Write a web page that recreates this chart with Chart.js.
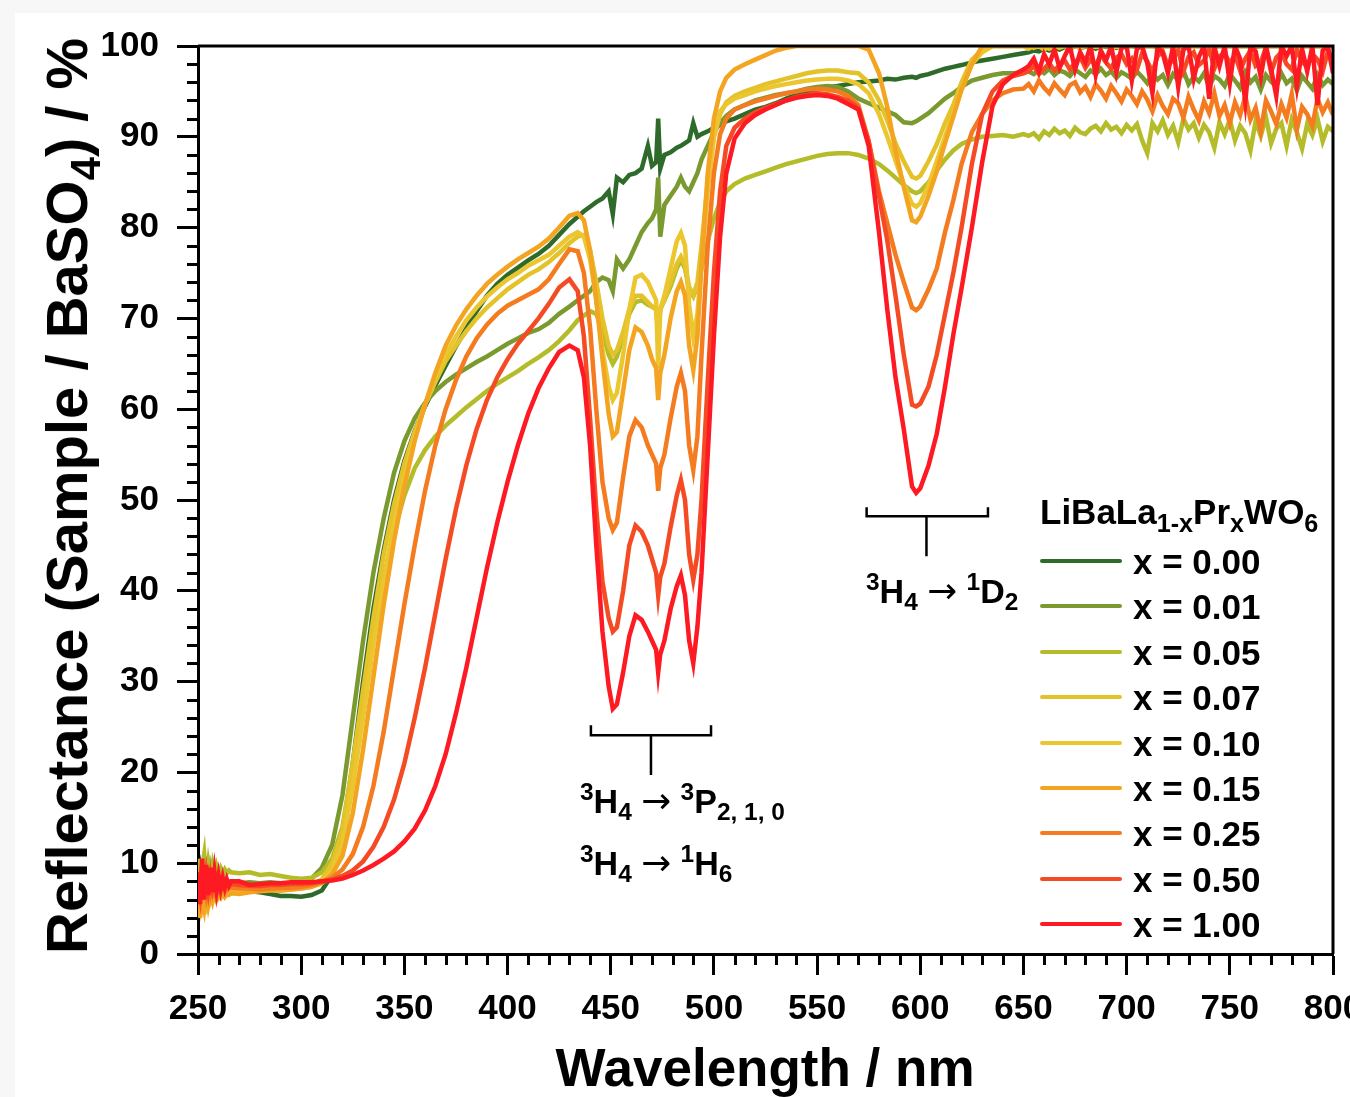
<!DOCTYPE html>
<html>
<head>
<meta charset="utf-8">
<script src="https://cdn.jsdelivr.net/npm/chart.js@4.4.0/dist/chart.umd.min.js"></script>
<style>
html, body { margin: 0; padding: 0; width: 1350px; height: 1097px; overflow: hidden; background: #f7f7f7; font-family: "Liberation Sans", Arial, sans-serif; }
#paper { position: absolute; left: 15px; top: 13px; width: 1335px; height: 1084px; background: #fff; }
#c { position: absolute; left: 0; top: 0; }
.txt { position: absolute; font-weight: bold; color: #000; white-space: nowrap; line-height: 1; }
.txt sub { font-size: 0.72em; vertical-align: -0.3em; line-height: 0; }
.txt sup { font-size: 0.72em; vertical-align: 0.55em; line-height: 0; }
.ar { font-family: "DejaVu Sans", sans-serif; font-weight: normal; font-size: 1.05em; }
.swatch { position: absolute; height: 4px; width: 82px; border-radius: 2px; }
</style>
</head>
<body>
<div id="paper"></div>
<canvas id="c" width="1350" height="1097"></canvas>

<div class="txt" id="ytitle" style="font-size:58px;">Reflectance (Sample / BaSO<sub>4</sub>) / %</div>
<div class="txt" style="font-size:53px; left:765px; top:1041px; transform:translateX(-50%);">Wavelength / nm</div>

<div class="txt" style="font-size:34px; left:580px; top:783px;"><sup>3</sup>H<sub>4</sub> <span class="ar">→</span> <sup>3</sup>P<sub>2, 1, 0</sub></div>
<div class="txt" style="font-size:34px; left:580px; top:845px;"><sup>3</sup>H<sub>4</sub> <span class="ar">→</span> <sup>1</sup>H<sub>6</sub></div>
<div class="txt" style="font-size:34px; left:866px; top:573px;"><sup>3</sup>H<sub>4</sub> <span class="ar">→</span> <sup>1</sup>D<sub>2</sub></div>

<div class="txt" style="font-size:35px; left:1040px; top:494px;">LiBaLa<sub>1-x</sub>Pr<sub>x</sub>WO<sub>6</sub></div>
<div id="legend"></div>

<script>
// wavelength grid (nm)
const wl = [
  250, 251, 252, 253, 254, 255, 256, 257, 258, 259, 260, 261, 262, 263, 264, 265, 266, 270, 275, 280, 285, 290, 295, 300,
  305, 310, 315, 320, 325, 330, 335, 340, 345, 350, 355, 360, 365, 370, 375, 380, 385, 390, 395, 400, 405, 410, 415, 420, 425, 430, 434,
  437, 440, 443, 446, 449, 451, 453, 456, 459, 462, 465, 468, 470, 472, 473, 474, 476, 479, 482, 484, 486, 488, 490, 492, 494, 497, 500,
  503, 506, 510, 515, 520, 525, 530, 535, 540, 545, 550, 555, 560, 565, 570, 575, 580,
  584, 588, 592, 596, 598, 600, 604, 608, 612, 616, 620,
  625, 630, 635, 640, 645, 650,
  652.5, 655, 657.5, 660, 662.5, 665, 667.5, 670, 672.5, 675, 677.5, 680, 682.5, 685, 687.5, 690, 692.5, 695, 697.5, 700,
  702.5, 705, 707.5, 710, 712.5, 715, 717.5, 720, 722.5, 725, 727.5, 730, 732.5, 735, 737.5, 740, 742.5, 745, 747.5, 750,
  752.5, 755, 757.5, 760, 762.5, 765, 767.5, 770, 772.5, 775, 777.5, 780, 782.5, 785, 787.5, 790, 792.5, 795, 797.5, 800
];

const labels = ['x = 0.00', 'x = 0.01', 'x = 0.05', 'x = 0.07', 'x = 0.10', 'x = 0.15', 'x = 0.25', 'x = 0.50', 'x = 1.00'];
const colors = ['#2e6b2b', '#7a9a30', '#b4bc2a', '#e3c22a', '#ebc62f', '#f3a421', '#f47b20', '#f54b24', '#fe1a22'];

// reflectance in %
const r000 = [
  7.5, 9, 6.5, 8.5, 7, 9.5, 6.8, 8, 7.2, 8.3, 6.9, 7.6, 7.1, 7.8, 6.9, 7.4, 7.1, 7, 6.9, 6.8, 6.6, 6.4, 6.4, 6.3,
  6.5, 7, 8.7, 12.5, 21, 30, 38, 44.5, 50, 54.3, 57.6, 60.3, 62.6, 64.8, 66.9, 68.9, 70.8, 72.5, 73.8, 74.8, 75.6, 76.4, 77.1, 78, 79.2, 80.4, 81.2,
  81.8, 82.3, 82.8, 83.2, 84, 81.5, 85.5, 85, 85.8, 86, 86.5, 89, 86.8, 87.2, 92, 86.5, 88, 88.3, 88.8, 89, 89.3, 89.6, 91.5, 90, 90.3, 90.6, 91,
  91.3, 91.7, 92, 92.5, 93, 93.3, 93.7, 94.2, 94.6, 94.8, 95.2, 95.4, 95.6, 95.8, 96, 96.1, 96.2,
  96.4, 96.3, 96.5, 96.6, 96.5, 96.7, 96.9, 97.2, 97.5, 97.7, 97.9,
  98.2, 98.4, 98.6, 98.8, 99, 99.2,
  99.3, 99.5, 99.4, 99.7, 99.5, 99.8, 99.6, 99.9, 99.7, 100, 99.8, 99.9, 100, 99.7, 100, 99.9, 100, 99.8, 100, 100,
  100, 99.9, 100, 100, 100, 99.8, 100, 100, 100, 100, 99.9, 100, 100, 100, 100, 100, 99.9, 100, 100, 100,
  100, 100, 100, 100, 99.9, 100, 100, 100, 100, 100, 100, 100, 100, 100, 100, 100, 100, 100, 100, 100
];
const r001 = [
  8, 6, 9.5, 7, 8.5, 6.8, 9, 7.4, 8.6, 7.2, 8.3, 7.6, 8.2, 7.5, 8, 7.6, 7.9, 7.8, 7.9, 7.8, 7.9, 7.8, 7.7, 7.8,
  8.3, 9.5, 12, 17.5, 26, 34.5, 42, 48, 53, 56.5, 59, 60.7, 62, 63, 63.8, 64.5, 65.2, 65.8, 66.5, 67.2, 67.8, 68.4, 68.8, 69.5, 70.5, 71.3, 72,
  72.5, 73, 74, 74.5, 74.2, 73, 76.5, 75.5, 76.5, 78, 79.5, 80.5, 81, 82, 85.5, 79, 82.5, 83.5, 84.5, 85.5, 84.5, 84, 85, 86, 87.5, 89, 90.5,
  91.5, 92.3, 93, 93.5, 94, 94.3, 94.6, 94.8, 95, 95.3, 95.5, 95.6, 95.5, 95, 94.2, 93.7, 93.2,
  92.8, 92.4, 91.6, 91.5, 91.7, 92, 92.6, 93.4, 94.2, 94.8, 95.5,
  96.2, 96.5, 96.8, 97, 97, 97.1,
  97.2, 96.9, 97.4, 97, 97.5, 96.8, 97.3, 97.1, 96.7, 97.4, 97, 96.6, 97.3, 96.9, 97.5, 96.8, 97.2, 96.5, 97.1, 96.8,
  96.4, 97.2, 96.6, 95.9, 97, 96.3, 96.8, 95.7, 96.9, 96.2, 97.3, 95.8, 96.6, 96.1, 97, 95.5, 96.7, 96.3, 95.6, 96.9,
  96.2, 95.4, 97.1, 96, 96.6, 95.2, 96.8, 96.1, 95.5, 97, 95.9, 96.4, 95.1, 96.7, 96, 95.3, 96.8, 95.7, 96.3, 95.8
];
const r005 = [
  10.5, 7, 9.5, 11, 8, 10, 8.5, 9.8, 8.4, 9.6, 8.7, 9.4, 8.8, 9.3, 8.9, 9.2, 9, 8.9, 9, 8.7, 8.8, 8.6, 8.4, 8.3,
  8.4, 9, 10.5, 14, 21, 28.5, 35.5, 41.5, 46.5, 50.5, 53.5, 55.5, 57, 58.2, 59.2, 60.2, 61.1, 62, 62.8, 63.5, 64.2, 65, 65.7, 66.5, 67.5, 68.7, 69.8,
  70.3, 70.8, 70.5, 68.5, 66, 65, 65.8, 68, 70.5, 71.8, 72, 71.5, 71.3, 71, 69, 71, 72, 73.5, 75.5, 76.4, 75.5, 73, 72.4, 73.5, 75.5, 78.5, 81,
  82.8, 84, 84.8, 85.4, 85.8, 86.2, 86.6, 87, 87.3, 87.6, 87.9, 88.1, 88.2, 88.2, 88, 87.6, 87,
  86.3, 85.5, 84.7, 84, 83.8, 84, 85, 86.3, 87.5, 88.5, 89.2,
  89.7, 90, 90.1, 90.2, 90, 90.3,
  90.1, 90.4, 89.8, 90.6, 90.2, 90.9, 90.4, 90.7, 90.1, 91, 90.5, 90.3, 90.9, 91.2, 90.6, 91.5, 90.8, 91.1, 90.4, 91.3,
  90.7, 91.4, 89.6, 88.2, 91.5, 90.6, 91.8, 90.2, 91.2, 89.4, 92, 90.8, 91.5, 89.9, 91.3, 90.5, 88.8, 91.6, 90.3, 91.9,
  89.6, 91.2, 90.4, 88.5, 91.7, 90.1, 92.2, 89.3, 90.9, 91.5, 89, 91.9, 90.5, 88.7, 91.4, 90.2, 92, 89.5, 91.1, 90.6
];
const r007 = [
  5.5, 7.5, 6, 7.2, 5.8, 7, 6.2, 6.9, 6.4, 7.1, 6.5, 6.9, 6.7, 7, 6.8, 7.1, 6.9, 6.9, 7.1, 7.2, 7.1, 7.2, 7.3, 7.4,
  7.6, 8.2, 10, 13.5, 21, 29, 37, 44, 49.5, 54, 57.5, 60.5, 63, 65.3, 67, 68.6, 70, 71.2, 72.2, 73.2, 74, 74.8, 75.4, 76.2, 77.2, 78.3, 79,
  79.2, 77.5, 74, 70, 67, 66, 66.5, 68.5, 71, 72.5, 72.5, 71.8, 71.3, 71, 68, 71, 72, 74, 76, 76.8, 75.8, 73.5, 72.5, 74, 78, 85, 90,
  92.5, 93.8, 94.5, 95, 95.4, 95.8, 96.1, 96.4, 96.7, 97, 97.2, 97.3, 97.3, 97.1, 97, 96, 94,
  91.8, 89.3, 87.3, 85.6, 85.4, 85.7, 87.3, 89.2, 91.5, 93.5, 96,
  98.5, 99.5, 100, 100, 100, 100,
  100, 99.8, 100, 100, 99.7, 100, 100, 100, 99.8, 100, 100, 100, 100, 99.9, 100, 100, 100, 100, 99.8, 100,
  100, 100, 100, 100, 100, 99.9, 100, 100, 100, 100, 100, 100, 100, 100, 100, 100, 100, 100, 100, 100,
  100, 100, 100, 100, 100, 100, 100, 100, 100, 100, 100, 100, 100, 100, 100, 100, 100, 100, 100, 100
];
const r010 = [
  6, 5, 7, 6.5, 5.5, 6.8, 5.9, 6.6, 6.2, 6.9, 6.3, 6.7, 6.5, 6.9, 6.6, 6.8, 6.7, 6.8, 7, 7, 7.1, 7, 7.1, 7.2,
  7.4, 7.9, 9.3, 12, 18.5, 26, 34, 41, 47.5, 52.5, 57, 60.5, 63.5, 66, 68, 69.8, 71.2, 72.4, 73.4, 74.3, 75, 75.8, 76.4, 77, 78, 79, 79.5,
  79, 76.5, 72, 66.5, 62.5, 61, 61.8, 66, 71, 74.5, 74.8, 74, 73, 72, 64.5, 71, 72.5, 75.5, 78.5, 79.4, 78, 71.5, 68, 70.5, 76, 84, 90,
  92.8, 93.6, 94.2, 94.6, 95, 95.3, 95.6, 95.8, 96, 96.2, 96.3, 96.4, 96.4, 96.2, 95.8, 94.8, 92.5,
  90, 87.4, 84.8, 82.6, 82.3, 82.7, 84.7, 87.3, 90, 92.6, 95.2,
  98, 99.3, 100, 100, 100, 100,
  99.7, 100, 100, 99.6, 100, 100, 99.8, 100, 100, 100, 99.8, 100, 100, 100, 100, 100, 100, 99.9, 100, 100,
  100, 100, 99.9, 100, 100, 100, 100, 100, 100, 100, 100, 100, 100, 100, 100, 100, 100, 100, 100, 100,
  100, 100, 100, 100, 100, 100, 100, 100, 100, 100, 100, 100, 100, 100, 100, 100, 100, 100, 100, 100
];
const r015 = [
  6.5, 4, 6.2, 5, 7, 5.4, 6.6, 5.8, 6.8, 6, 6.5, 6.2, 6.7, 6.3, 6.6, 6.5, 6.7, 6.6, 6.8, 6.9, 7, 7, 7.1, 7.2,
  7.4, 7.8, 8.8, 10.8, 15.5, 22.5, 30.5, 38.5, 45.5, 51.5, 56.5, 60.5, 64, 67, 69.2, 71, 72.5, 73.8, 74.8, 75.7, 76.5, 77.2, 77.9, 78.8, 80, 81.3, 81.6,
  80.8, 77.5, 72, 65.5, 59.5, 57, 57.5, 62, 66.5, 69, 68.5, 67, 65.5, 64.5, 61, 64, 66, 70, 73, 74, 72.5, 67, 64.3, 68, 76, 86, 92,
  95, 96.5, 97.4, 98, 98.5, 99, 99.5, 99.8, 100, 100, 100, 100, 100, 100, 100, 99.6, 97,
  93.3, 88.5, 84.5, 80.8, 80.6, 81.2, 83.5, 86.2, 89.3, 92.2, 95.2,
  98, 100, 100, 100, 100, 100,
  100, 100, 100, 100, 100, 100, 100, 100, 100, 100, 100, 100, 100, 100, 100, 100, 100, 100, 100, 100,
  100, 100, 100, 100, 100, 100, 100, 100, 100, 100, 100, 100, 100, 100, 100, 100, 100, 100, 100, 100,
  100, 100, 100, 100, 100, 100, 100, 100, 100, 100, 100, 100, 100, 100, 100, 100, 100, 100, 100, 100
];
const r025 = [
  7, 8.5, 6, 8.2, 6.6, 7.9, 6.8, 8, 7, 7.7, 7.1, 7.6, 7.2, 7.5, 7.1, 7.4, 7.3, 7.2, 7.2, 7.1, 7.2, 7.3, 7.3, 7.4,
  7.6, 7.9, 8.4, 9.3, 11, 14, 18.5, 24.5, 31.5, 38.5, 45, 51, 56, 60, 63.2, 65.8, 67.8, 69.3, 70.5, 71.4, 72, 72.6, 73.2, 74.3, 76, 77.6, 77.4,
  75, 69, 60, 52, 48, 46.7, 47.5, 52.5, 57, 58.8, 58, 56, 55, 54, 51, 53.5, 55, 59, 62.5, 64, 62, 56, 53.3, 57, 66, 78, 86,
  90.3, 92, 93, 93.5, 93.9, 94.2, 94.5, 94.8, 95, 95.2, 95.3, 95.2, 95, 94.5, 93.5, 89.5, 84,
  80.5, 77, 74, 71.2, 70.9, 71.3, 73.2, 75.5, 79.5, 83, 87,
  90.5, 92.5, 94, 94.8, 95.2, 95.3,
  95.8, 95, 96.2, 95.4, 94.8, 95.9, 95.2, 94.6, 95.7, 96, 94.9, 95.5, 94.4, 95.8, 95.1, 94.2, 95.6, 94.8, 93.9, 95.2,
  94.5, 93.6, 95, 94.1, 92.8, 94.6, 93.4, 92.5, 94.2, 93.7, 92.1, 94.4, 93, 91.8, 93.9, 92.6, 94.8, 92.3, 93.5, 91.5,
  93.8, 92.4, 94.5, 91.9, 93.2, 90.6, 94, 92.8, 91.4, 93.6, 92.1, 94.7, 90.8, 93.3, 92.5, 91.2, 94.2, 92.7, 93.8, 92.4
];
const r050 = [
  8, 6.5, 9.5, 6.8, 8.8, 7, 8.6, 7.2, 8.3, 7.3, 8, 7.4, 7.9, 7.5, 7.8, 7.5, 7.7, 7.6, 7.5, 7.5, 7.6, 7.6, 7.7, 7.7,
  7.8, 8, 8.2, 8.6, 9.2, 10.2, 11.8, 14, 17, 21, 26, 31.5, 37.5, 43.5, 49, 53.8, 57.8, 61, 63.5, 65.5, 67.2, 68.6, 70, 71.6, 73.4, 74.3, 73,
  68, 59, 49, 41, 37, 35.5, 36, 40, 45, 47.2, 46.5, 45, 43.5, 42, 39.5, 41.5, 43, 47, 50.5, 52.2, 50, 44, 41.2, 44, 50, 63, 75,
  84, 89, 91, 92, 92.7, 93.2, 93.6, 94, 94.4, 94.6, 94.8, 94.7, 94.4, 94, 93.2, 89.5, 83.5,
  78.6, 72.5, 66, 60.5, 60.3, 60.6, 62.5, 66, 70.5, 75, 80,
  87, 92.5, 95, 96.2, 96.7, 97,
  97.2, 97.8, 96.9, 97.5, 98.1, 97.3, 97.9, 98.4, 97.4, 98.2, 98.8, 97.6, 98.5, 97.9, 99, 98.2, 97.5, 98.7, 99.1, 98,
  98.6, 97.4, 99.2, 98.3, 97.1, 98.9, 99.4, 97.8, 98.5, 99.6, 97.2, 98.8, 99.3, 97.9, 98.4, 99.7, 97.5, 98.9, 99.2, 98.1,
  99, 97.3, 98.6, 99.5, 97.8, 98.2, 99.8, 97.1, 98.7, 99.3, 98, 97.4, 99.6, 98.3, 97.7, 99.1, 98.5, 97.2, 99.4, 98.6
];
const r100 = [
  9, 5.5, 10.5, 6, 9.8, 6.5, 9.5, 6.8, 9, 7, 8.6, 7.2, 8.4, 7.3, 8.2, 7.5, 8, 8, 7.6, 7.7, 7.8, 7.8, 7.9, 7.9,
  7.9, 8, 8.1, 8.3, 8.7, 9.2, 9.8, 10.5, 11.3, 12.4, 13.8, 15.8, 18.5, 22, 26.5, 31.5, 37, 42.5, 47.5, 52, 56, 59.5, 62.3, 64.5, 66.3, 67, 66.5,
  63.5, 56, 45, 35.5, 29.5, 27, 27.5, 31, 35, 37.3, 36.8, 35.5, 34.5, 33.5, 31, 33, 34.5, 38, 40.5, 41.7, 39.5, 34.5, 32, 36, 42, 55, 68,
  79, 86, 89.8, 91.5, 92.4, 93, 93.5, 94, 94.3, 94.5, 94.6, 94.5, 94.2, 93.6, 93, 89, 79.5,
  71, 63.5, 57.8, 51.5, 50.8, 51.3, 53.8, 57.3, 62.5, 68.2, 73.3,
  80, 87.2, 93.4, 95.8, 96.8, 97.4,
  97.8, 98.6, 97.2, 99.1, 98, 99.6, 97.6, 98.9, 100, 97.4, 99.3, 98.2, 100, 96.8, 99.5, 98.4, 100, 97.1, 99.8, 100,
  96.2, 99.7, 100, 98.1, 94.8, 100, 99.2, 97, 100, 95.5, 99.6, 100, 96.4, 98.8, 100, 94.2, 99.9, 97.8, 100, 95.9,
  100, 98.6, 93.8, 100, 99.4, 96.6, 100, 97.5, 94.5, 100, 98.9, 100, 95.6, 99.7, 97.2, 100, 93.5, 99.5, 100, 97
];

const series = [r000, r001, r005, r007, r010, r015, r025, r050, r100];

// transition brackets, in data units (nm / %)
const brackets = [
  { from: 440.4, to: 498.6, y: 24.1, yEnd: 25.2, stemX: 469.5, stemY: 19.7 },
  { from: 574, to: 632.8, y: 48.2, yEnd: 49.2, stemX: 603, stemY: 43.8 }
];

// minor ticks, outer frame and the brackets
const extras = {
  id: 'extras',
  afterDraw(chart) {
    const { ctx, chartArea: a, scales: { x, y } } = chart;
    ctx.save();
    ctx.strokeStyle = '#000';
    ctx.lineWidth = 3;
    ctx.beginPath();
    for (let v = 0; v <= 100; v += 2) {
      if (v % 10 === 0) continue;
      const py = Math.round(y.getPixelForValue(v)) + 0.5;
      ctx.moveTo(a.left - 11, py); ctx.lineTo(a.left, py);
    }
    for (let v = 250; v <= 800; v += 10) {
      if (v % 50 === 0) continue;
      const px = Math.round(x.getPixelForValue(v)) + 0.5;
      ctx.moveTo(px, a.bottom); ctx.lineTo(px, a.bottom + 11);
    }
    ctx.stroke();

    ctx.beginPath();
    ctx.moveTo(a.left, a.top); ctx.lineTo(a.right, a.top); ctx.lineTo(a.right, a.bottom);
    ctx.stroke();

    ctx.lineWidth = 2.5;
    brackets.forEach(b => {
      const x0 = x.getPixelForValue(b.from), x1 = x.getPixelForValue(b.to);
      const yb = y.getPixelForValue(b.y), ye = y.getPixelForValue(b.yEnd);
      const xs = x.getPixelForValue(b.stemX), ys = y.getPixelForValue(b.stemY);
      ctx.beginPath();
      ctx.moveTo(x0, ye); ctx.lineTo(x0, yb); ctx.lineTo(x1, yb); ctx.lineTo(x1, ye);
      ctx.moveTo(xs, yb); ctx.lineTo(xs, ys);
      ctx.stroke();
    });
    ctx.restore();
  }
};

const datasets = series.map((vals, i) => ({
  label: labels[i],
  data: wl.map((w, k) => ({ x: w, y: vals[k] })),
  borderColor: colors[i],
  borderWidth: 4.5,
  pointRadius: 0,
  tension: 0,
  clip: 0,
  order: series.length - 1 - i
}));

const tickFont = { family: '"Liberation Sans", Arial, sans-serif', size: 35, weight: 'bold' };

new Chart(document.getElementById('c'), {
  type: 'line',
  data: { datasets },
  options: {
    responsive: false,
    devicePixelRatio: 1,
    animation: false,
    events: [],
    layout: { padding: { top: 46, right: 17, left: 0, bottom: 0 } },
    plugins: { legend: { display: false }, tooltip: { enabled: false } },
    scales: {
      x: {
        type: 'linear', min: 250, max: 800,
        ticks: { stepSize: 50, color: '#000', font: tickFont, padding: 13, maxRotation: 0, autoSkip: false },
        grid: { drawOnChartArea: false, tickLength: 21, tickWidth: 3, tickColor: '#000' },
        border: { color: '#000', width: 3 },
        afterFit(s) { s.height = 143; s.paddingLeft = 0; s.paddingRight = 0; }
      },
      y: {
        min: 0, max: 100,
        ticks: { stepSize: 10, color: '#000', font: tickFont, padding: 18 },
        grid: { drawOnChartArea: false, tickLength: 21, tickWidth: 3, tickColor: '#000' },
        border: { color: '#000', width: 3 },
        afterFit(s) { s.width = 198; s.paddingTop = 0; s.paddingBottom = 0; }
      }
    }
  },
  plugins: [extras]
});

// y title, rotated around its centre
const yt = document.getElementById('ytitle');
yt.style.left = '67px';
yt.style.top = '496px';
yt.style.transform = 'translate(-50%, -50%) rotate(-90deg)';

// legend rows
const legend = document.getElementById('legend');
labels.forEach((lab, i) => {
  const cy = 561 + i * 45.4;
  const sw = document.createElement('div');
  sw.className = 'swatch';
  sw.style.left = '1040px';
  sw.style.top = (cy - 2) + 'px';
  sw.style.background = colors[i];
  legend.appendChild(sw);
  const t = document.createElement('div');
  t.className = 'txt';
  t.style.fontSize = '35px';
  t.style.left = '1133px';
  t.style.top = (cy - 17) + 'px';
  t.textContent = lab;
  legend.appendChild(t);
});
</script>
</body>
</html>
